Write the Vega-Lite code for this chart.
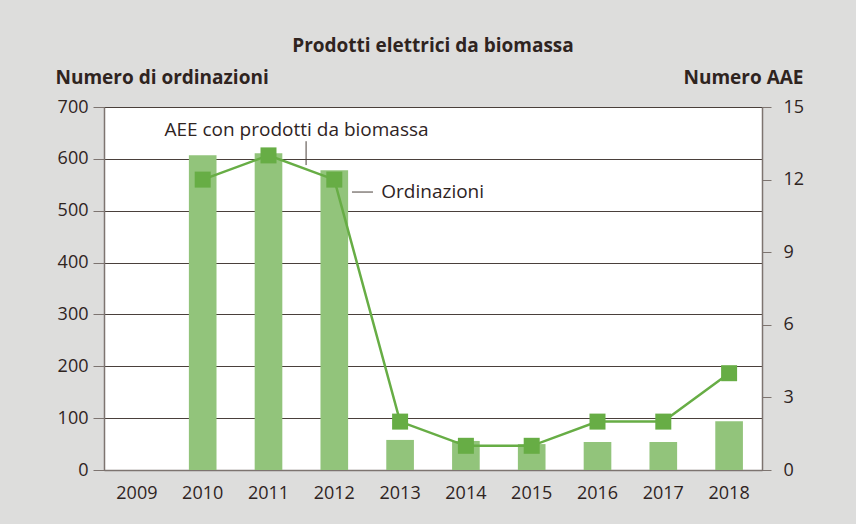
{
  "$schema": "https://vega.github.io/schema/vega-lite/v6.json",
  "width": 658,
  "height": 363,
  "autosize": {"type": "none"},
  "padding": {"left": 104, "top": 107, "right": 94, "bottom": 54},
  "background": "#dddddc",
  "config": {
    "view": {"fill": "white", "stroke": "#7d7470", "strokeWidth": 1},
    "font": "Open Sans",
    "text": {"font": "Open Sans"}
  },
  "title": {
    "text": "Prodotti elettrici da biomassa",
    "font": "Open Sans",
    "fontSize": 19,
    "fontWeight": "bold",
    "color": "#2f241f",
    "frame": "group",
    "anchor": "middle",
    "offset": 12
  },
  "data": {
    "values": [
      {"anno": "2009", "ordinazioni": null, "aee": null},
      {"anno": "2010", "ordinazioni": 607, "aee": 12},
      {"anno": "2011", "ordinazioni": 611, "aee": 13},
      {"anno": "2012", "ordinazioni": 578, "aee": 12},
      {"anno": "2013", "ordinazioni": 58, "aee": 2},
      {"anno": "2014", "ordinazioni": 56, "aee": 1},
      {"anno": "2015", "ordinazioni": 50, "aee": 1},
      {"anno": "2016", "ordinazioni": 54, "aee": 2},
      {"anno": "2017", "ordinazioni": 54, "aee": 2},
      {"anno": "2018", "ordinazioni": 94, "aee": 4}
    ]
  },
  "encoding": {
    "x": {
      "field": "anno",
      "type": "nominal",
      "scale": {
        "domain": ["2009", "2010", "2011", "2012", "2013", "2014", "2015", "2016", "2017", "2018"],
        "paddingInner": 0.58,
        "paddingOuter": 0.29
      },
      "axis": {
        "title": null,
        "labelAngle": 0,
        "labelFont": "Open Sans",
        "labelFontSize": 18,
        "labelColor": "#2f241f",
        "labelPadding": 14,
        "ticks": false,
        "domainColor": "#7d7470",
        "domainWidth": 1.5
      }
    }
  },
  "layer": [
    {
      "layer": [
        {
          "mark": {"type": "bar", "color": "#92c47b"},
          "encoding": {
            "y": {
              "field": "ordinazioni",
              "type": "quantitative",
              "scale": {"domain": [0, 700]},
              "axis": {
                "orient": "left",
                "values": [0, 100, 200, 300, 400, 500, 600, 700],
                "title": "Numero di ordinazioni",
                "titleAngle": 0,
                "titleAlign": "left",
                "titleBaseline": "alphabetic",
                "titleX": -49,
                "titleY": -24,
                "titleFont": "Open Sans",
                "titleFontSize": 19,
                "titleFontWeight": "bold",
                "titleColor": "#2f241f",
                "labelFont": "Open Sans",
                "labelFontSize": 18,
                "labelColor": "#2f241f",
                "labelPadding": 5,
                "tickSize": 11,
                "tickColor": "#7d7470",
                "domainColor": "#7d7470",
                "domainWidth": 1.5,
                "grid": true,
                "gridColor": "#4a403b",
                "gridWidth": 1
              }
            }
          }
        },
        {
          "data": {"values": [{"anno": "2011", "ordinazioni": 656, "label": "AEE con prodotti da biomassa"}]},
          "mark": {"type": "text", "align": "center", "baseline": "middle", "dx": 28, "fontSize": 19, "color": "#2f241f", "font": "Open Sans"},
          "encoding": {
            "y": {"field": "ordinazioni", "type": "quantitative"},
            "text": {"field": "label"}
          }
        },
        {
          "data": {"values": [{"anno": "2012", "ordinazioni": 536, "label": "Ordinazioni"}]},
          "mark": {"type": "text", "align": "left", "baseline": "middle", "dx": 47, "fontSize": 19, "color": "#2f241f", "font": "Open Sans"},
          "encoding": {
            "y": {"field": "ordinazioni", "type": "quantitative"},
            "text": {"field": "label"}
          }
        },
        {
          "data": {"values": [{"anno": "2011", "ordinazioni": 634, "fine": 588}]},
          "mark": {"type": "rule", "color": "#4a403b", "strokeWidth": 1},
          "encoding": {
            "x": {"field": "anno", "type": "nominal", "bandPosition": 1.86},
            "y": {"field": "ordinazioni", "type": "quantitative"},
            "y2": {"field": "fine"}
          }
        },
        {
          "data": {"values": [{"anno": "2012", "ordinazioni": 536}]},
          "mark": {"type": "rule", "color": "#4a403b", "strokeWidth": 1},
          "encoding": {
            "x": {"field": "anno", "type": "nominal", "bandPosition": 1.14},
            "x2": {"field": "anno", "bandPosition": 1.9},
            "y": {"field": "ordinazioni", "type": "quantitative"}
          }
        }
      ]
    },
    {
      "transform": [{"filter": "datum.aee != null"}],
      "mark": {
        "type": "line",
        "color": "#67ad45",
        "strokeWidth": 2.5,
        "point": {"shape": "square", "size": 256, "filled": true, "color": "#67ad45", "opacity": 1}
      },
      "encoding": {
        "y": {
          "field": "aee",
          "type": "quantitative",
          "scale": {"domain": [0, 15]},
          "axis": {
            "orient": "right",
            "values": [0, 3, 6, 9, 12, 15],
            "title": "Numero AAE",
            "titleAngle": 0,
            "titleAlign": "right",
            "titleBaseline": "alphabetic",
            "titleX": 41,
            "titleY": -24,
            "titleFont": "Open Sans",
            "titleFontSize": 19,
            "titleFontWeight": "bold",
            "titleColor": "#2f241f",
            "labelFont": "Open Sans",
            "labelFontSize": 18,
            "labelColor": "#2f241f",
            "labelPadding": 12,
            "tickSize": 9,
            "tickColor": "#7d7470",
            "domainColor": "#7d7470",
            "domainWidth": 1.5,
            "grid": false
          }
        }
      }
    }
  ],
  "resolve": {"scale": {"y": "independent"}}
}
